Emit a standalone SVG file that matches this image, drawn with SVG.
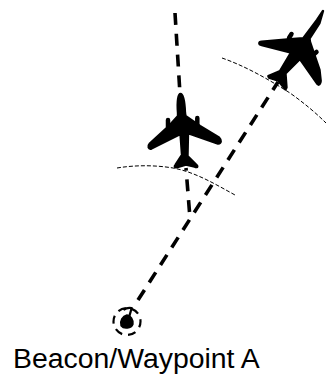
<svg xmlns="http://www.w3.org/2000/svg" width="326" height="374" viewBox="0 0 326 374">
<style>
.d{fill:none;stroke:#000;stroke-width:3.6;stroke-dasharray:12 8.800}
.a{fill:none;stroke:#000;stroke-width:1;stroke-dasharray:4 2}
.p{fill:#000;stroke:#000;stroke-width:2.400;stroke-linejoin:round}
.e{fill:none;stroke:#000;stroke-width:4.500;stroke-linecap:round}
text{font-family:"Liberation Sans",Arial,sans-serif;font-size:28.400px;fill:#000}
</style>
<g id="connectors">
<path class="d" d="M175 13L180 94"/>
<path class="d" d="M189.500 212L186 168"/>
<path class="d" d="M138 300L278 82"/>
<path class="a" d="M117 168C135 165 155 165 173 168C195 172 215 184 235 195"/>
<path class="a" d="M222 58C245 66 268 79 290 93C304 103 316 113 326 123"/>
</g>
<g id="plane-1">
<path class="p" d="M180.500 94C182.500 94 184.500 100 185 113L185.500 116L200 126L219 137.500C221.500 140 221.500 143 218 143.500L188 133L187.500 156L197 165.500C198 167.500 196 167.500 194.500 166.500L186 164.500L177.500 167C175 168 174 166.500 175.500 165L182 155L180.500 134L151.500 148.500C148.500 149.500 147.500 146 149.500 144L168 127L178 116L178 113C177 100 178.500 94 180.500 94Z"/>
<path class="e" d="M168 120V127M197.300 118V125"/>
</g>
<g id="plane-2">
<path class="p" d="M323 11L319.500 23L309.500 38.500L310 42L319.500 70L320.700 81C320.500 84 319 85.500 317.500 84L300 59L285.500 73.500L286.500 87.500L285.500 89.500L278.300 80.700L269 77.500L268.300 76L280 71L291 52.500L261.700 45C258.500 44.500 258.500 42 261.700 41.700L290 39.300L303.300 38.300L317 20Z"/>
<path class="e" d="M289 38L291.500 34M313 55L316.500 52"/>
</g>
<g id="beacon">
<circle cx="127" cy="321.500" r="13.500" fill="none" stroke="#000" stroke-width="2.200" stroke-dasharray="8 6" stroke-dashoffset="2"/>
<path class="p" d="M127 315.500C130.500 316 133 320 132.500 324C131 328 124 329 121.500 325.500C120 321 123 316.500 127 315.500Z"/>
<path d="M123.500 310C126 308 129 307.500 131.500 308C131 311 130 314 129 317" fill="none" stroke="#000" stroke-width="2.200"/>
</g>
<g id="label"><text x="13" y="368">Beacon/Waypoint A</text></g>
</svg>
